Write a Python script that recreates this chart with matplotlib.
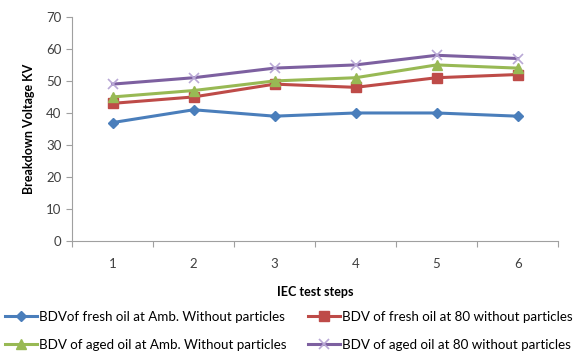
import matplotlib
matplotlib.use("Agg")
import matplotlib.pyplot as plt
from matplotlib.ticker import FixedLocator, NullFormatter

steps = [1, 2, 3, 4, 5, 6]
fresh_amb = [37, 41, 39, 40, 40, 39]
fresh_80 = [43, 45, 49, 48, 51, 52]
aged_amb = [45, 47, 50, 51, 55, 54]
aged_80 = [49, 51, 54, 55, 58, 57]
labels = [
    "BDVof fresh oil at Amb. Without particles",
    "BDV of fresh oil at 80 without particles",
    "BDV of aged oil at Amb. Without particles",
    "BDV of aged oil at 80 without particles",
]
yticks = [0, 10, 20, 30, 40, 50, 60, 70]

plt.rcParams['font.family'] = ['Lato', 'DejaVu Sans']

fig = plt.figure(figsize=(5.76, 3.51), dpi=100)
ax = fig.add_axes([0.125, 0.313, 0.844, 0.639])

styles = [
    (fresh_amb, "#4A7EBB", "D", 5.5, None),
    (fresh_80, "#BE4B48", "s", 6.5, None),
    (aged_amb, "#98B954", "^", 7.5, None),
    (aged_80, "#7D60A0", "x", 7.5, 1.2),
]
handles = []
for (vals, col, mk, ms, mew), lab in zip(styles, labels):
    kw = dict(color=col, lw=2.2, marker=mk, ms=ms, label=lab)
    if mew:
        kw["mew"] = mew
        kw["mec"] = "#B9A8D6"
    h, = ax.plot(steps, vals, **kw)
    handles.append(h)

ax.set_xlim(0.5, 6.5)
ax.set_ylim(0, 70)
ax.set_yticks(yticks)
ax.set_xticks(steps)
ax.xaxis.set_minor_locator(FixedLocator([0.5 + i for i in range(7)]))
ax.xaxis.set_minor_formatter(NullFormatter())
ax.tick_params(axis='x', which='major', length=0, pad=12, labelsize=9.5, colors="#404040")
ax.tick_params(axis='x', which='minor', length=4, color="#A0A0A0", width=0.8)
ax.tick_params(axis='y', length=4, color="#A0A0A0", width=0.8, labelsize=9.5, labelcolor="#404040")
for s in ["top", "right"]:
    ax.spines[s].set_visible(False)
for s in ["left", "bottom"]:
    ax.spines[s].set_color("#A0A0A0")
    ax.spines[s].set_linewidth(0.8)

ax.set_ylabel("Breakdown Voltage KV", fontweight="bold", fontsize=9, labelpad=8)
ax.set_xlabel("IEC test steps", fontweight="bold", fontsize=9, labelpad=12)

order = [0, 2, 1, 3]
fig.legend(handles=[handles[i] for i in order], labels=[labels[i] for i in order],
           loc="upper left", bbox_to_anchor=(5 / 576, 1 - 311 / 351),
           ncol=2, frameon=False, fontsize=9.6, handlelength=2.4,
           handletextpad=0.15, columnspacing=1.6, labelspacing=1.2,
           borderaxespad=0, borderpad=0)

fig.savefig("out.png", dpi=100)
